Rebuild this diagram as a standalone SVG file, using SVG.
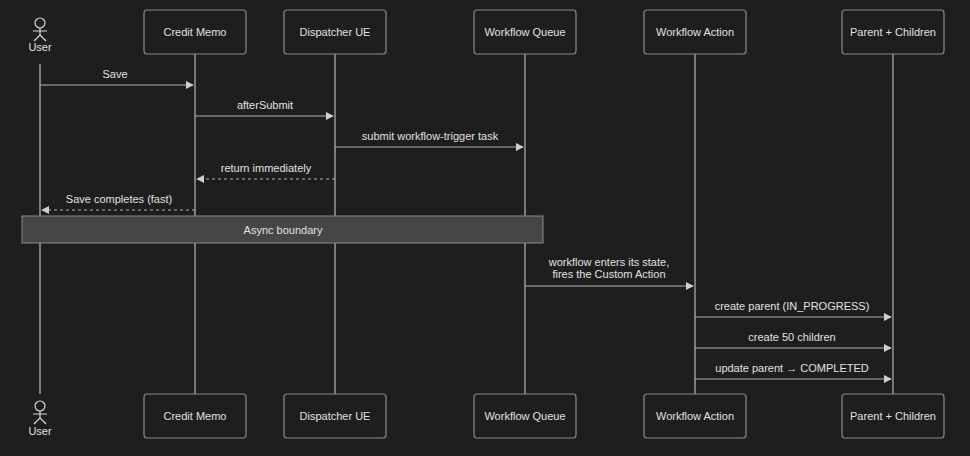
<svg xmlns="http://www.w3.org/2000/svg" width="970" height="456" viewBox="0 0 970 456">
<style>
text{font-family:"Liberation Sans",Arial,sans-serif;fill:#e0e0e0;font-size:11px;text-anchor:middle}
.box{fill:#1e1e1e;stroke:#8a8a8a;stroke-width:1.2}
.life{stroke:#9a9a9a;stroke-width:1.5}
.msg{stroke:#b0b0b0;stroke-width:1;fill:none}
.dash{stroke-dasharray:3,3}
.act{stroke:#d8d8d8;fill:none;stroke-width:1.2}
</style>
<defs>
<marker id="ah" viewBox="0 0 10 10" refX="9" refY="5" markerWidth="8" markerHeight="8" orient="auto"><path d="M0,0 L10,5 L0,10 z" fill="#d0d0d0"/></marker>
</defs>
<rect width="970" height="456" fill="#1e1e1e"/>
<g id="lifelines">
<line class="life" x1="40" y1="64" x2="40" y2="394"/>
<line class="life" x1="195" y1="54" x2="195" y2="394"/>
<line class="life" x1="335" y1="54" x2="335" y2="394"/>
<line class="life" x1="525" y1="54" x2="525" y2="394"/>
<line class="life" x1="695" y1="54" x2="695" y2="394"/>
<line class="life" x1="893" y1="54" x2="893" y2="394"/>
</g>
<g id="user-top"><circle class="act" cx="40" cy="23" r="5"/><path class="act" d="M40,28 V35 M33,31 H47 M40,35 L34,41 M40,35 L46,41"/><text x="40" y="51" font-size="12">User</text></g>
<g id="user-bottom"><circle class="act" cx="40" cy="406" r="5"/><path class="act" d="M40,411 V418 M33,414 H47 M40,418 L34,424 M40,418 L46,424"/><text x="40" y="435" font-size="12">User</text></g>
<g id="credit-memo-top"><rect class="box" x="144" y="10" width="102" height="44" rx="3"/><text x="195" y="36">Credit Memo</text></g>
<g id="dispatcher-top"><rect class="box" x="284" y="10" width="102" height="44" rx="3"/><text x="335" y="36">Dispatcher UE</text></g>
<g id="queue-top"><rect class="box" x="474" y="10" width="102" height="44" rx="3"/><text x="525" y="36">Workflow Queue</text></g>
<g id="action-top"><rect class="box" x="644" y="10" width="102" height="44" rx="3"/><text x="695" y="36">Workflow Action</text></g>
<g id="parent-top"><rect class="box" x="842" y="10" width="102" height="44" rx="3"/><text x="893" y="36">Parent + Children</text></g>
<g id="credit-memo-bottom"><rect class="box" x="144" y="394" width="102" height="44" rx="3"/><text x="195" y="420">Credit Memo</text></g>
<g id="dispatcher-bottom"><rect class="box" x="284" y="394" width="102" height="44" rx="3"/><text x="335" y="420">Dispatcher UE</text></g>
<g id="queue-bottom"><rect class="box" x="474" y="394" width="102" height="44" rx="3"/><text x="525" y="420">Workflow Queue</text></g>
<g id="action-bottom"><rect class="box" x="644" y="394" width="102" height="44" rx="3"/><text x="695" y="420">Workflow Action</text></g>
<g id="parent-bottom"><rect class="box" x="842" y="394" width="102" height="44" rx="3"/><text x="893" y="420">Parent + Children</text></g>
<g id="async-boundary"><rect x="22" y="216" width="521" height="27" fill="#464646" stroke="#8a8a8a" stroke-width="1"/><text x="283" y="234" fill="#cfcfcf">Async boundary</text></g>
<g id="connectors">
<line class="msg" x1="40" y1="85" x2="193" y2="85" marker-end="url(#ah)"/><text x="115" y="78">Save</text>
<line class="msg" x1="195" y1="116" x2="333" y2="116" marker-end="url(#ah)"/><text x="265" y="109">afterSubmit</text>
<line class="msg" x1="335" y1="147" x2="523" y2="147" marker-end="url(#ah)"/><text x="430" y="140">submit workflow-trigger task</text>
<line class="msg dash" x1="335" y1="179" x2="197" y2="179" marker-end="url(#ah)"/><text x="266" y="172">return immediately</text>
<line class="msg dash" x1="195" y1="210" x2="42" y2="210" marker-end="url(#ah)"/><text x="119" y="203">Save completes (fast)</text>
<line class="msg" x1="525" y1="286" x2="693" y2="286" marker-end="url(#ah)"/><text x="609" y="266">workflow enters its state,</text><text x="609" y="278">fires the Custom Action</text>
<line class="msg" x1="695" y1="317" x2="891" y2="317" marker-end="url(#ah)"/><text x="792" y="310">create parent (IN_PROGRESS)</text>
<line class="msg" x1="695" y1="348" x2="891" y2="348" marker-end="url(#ah)"/><text x="792" y="341">create 50 children</text>
<line class="msg" x1="695" y1="379" x2="891" y2="379" marker-end="url(#ah)"/><text x="792" y="372">update parent → COMPLETED</text>
</g>
</svg>
